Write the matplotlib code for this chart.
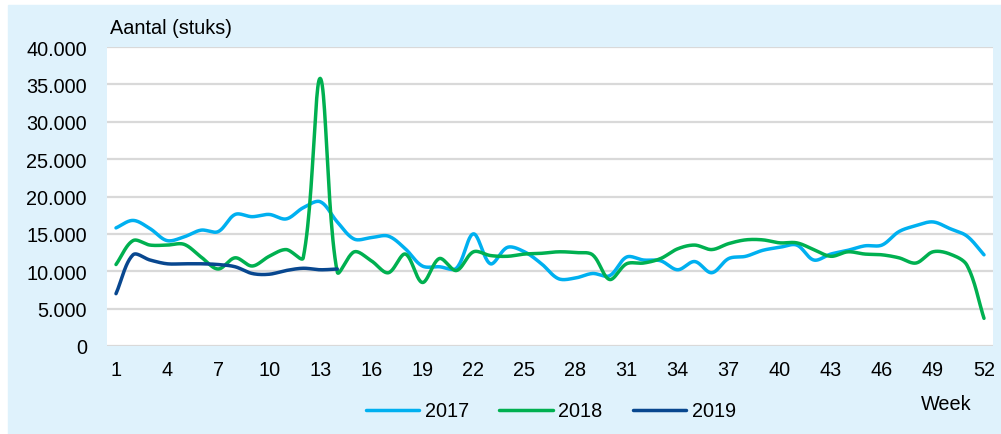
import matplotlib
matplotlib.use('Agg')
import matplotlib.pyplot as plt
import numpy as np
from matplotlib.patches import Rectangle

plt.rcParams['font.family'] = ['Liberation Sans', 'DejaVu Sans']

weeks = np.arange(1, 53)
# (x 1000 stuks per week)
y2017 = [15.8, 16.8, 15.7, 14.1, 14.6, 15.5, 15.3, 17.6, 17.3, 17.6,
         17.0, 18.5, 19.3, 16.6, 14.3, 14.5, 14.7, 13.0, 10.7, 10.6,
         10.4, 15.0, 11.0, 13.2, 12.6, 11.0, 9.0, 9.1, 9.7, 9.4,
         11.9, 11.5, 11.4, 10.2, 11.3, 9.8, 11.7, 12.0, 12.8, 13.2,
         13.5, 11.5, 12.3, 12.8, 13.4, 13.5, 15.3, 16.1, 16.6, 15.7,
         14.7, 12.2]
y2018 = [10.9, 14.1, 13.5, 13.5, 13.6, 11.9, 10.3, 11.8, 10.7, 12.0,
         12.9, 11.8, 35.8, 9.9, 12.6, 11.4, 9.8, 12.3, 8.5, 11.7,
         10.1, 12.6, 12.1, 12.0, 12.3, 12.4, 12.6, 12.5, 12.2, 8.9,
         11.0, 11.1, 11.7, 13.0, 13.5, 12.9, 13.7, 14.2, 14.2, 13.8,
         13.8, 12.9, 12.0, 12.6, 12.3, 12.2, 11.8, 11.1, 12.6, 12.3,
         10.8, 3.7]
y2019 = [7.0, 12.2, 11.5, 11.0, 11.0, 11.0, 10.9, 10.6, 9.7, 9.6,
         10.1, 10.4, 10.2, 10.3]
series = [('2017', y2017, '#00B0F0'),
          ('2018', y2018, '#00B050'),
          ('2019', y2019, '#08478F')]
yticks = np.arange(0, 40001, 5000)
xticks = np.arange(1, 53, 3)


def smooth(x, y, n=24, sx=17.0, sy=7.45e-3):
    # bezier through the points with handles scaled by segment length,
    # roughly what excel does for a smoothed line
    x = np.asarray(x, float)
    y = np.asarray(y, float)
    px = np.concatenate([[x[0]], x, [x[-1]]])
    py = np.concatenate([[y[0]], y, [y[-1]]])
    d = np.hypot(np.diff(px) * sx, np.diff(py) * sy) + 1e-9
    xs, ys = [], []
    t = np.linspace(0, 1, n, endpoint=False)
    for i in range(1, len(px) - 2):
        p0, p1, p2, p3 = px[i-1:i+3]
        q0, q1, q2, q3 = py[i-1:i+3]
        f1 = 2 * d[i] / (d[i-1] + d[i]) / 6
        f2 = 2 * d[i] / (d[i] + d[i+1]) / 6
        c1x, c1y = p1 + (p2 - p0) * f1, q1 + (q2 - q0) * f1
        c2x, c2y = p2 - (p3 - p1) * f2, q2 - (q3 - q1) * f2
        b = [(1-t)**3, 3*(1-t)**2*t, 3*(1-t)*t**2, t**3]
        xs.append(b[0]*p1 + b[1]*c1x + b[2]*c2x + b[3]*p2)
        ys.append(b[0]*q1 + b[1]*c1y + b[2]*c2y + b[3]*q2)
    xs.append([x[-1]])
    ys.append([y[-1]])
    return np.concatenate(xs), np.concatenate(ys)


fig = plt.figure(figsize=(10.01, 4.35), dpi=100)
fig.patches.append(Rectangle((8/1001, 0), 1, (435-6)/435,
                             transform=fig.transFigure,
                             color='#DFF2FC', zorder=-10))
ax = fig.add_axes([107/1001, 1-347/435, (993-107)/1001, (347-48)/435])
ax.set_facecolor('white')

for name, vals, col in series:
    sx, sy = smooth(weeks[:len(vals)], np.array(vals) * 1000)
    ax.plot(sx, sy, color=col, lw=2.5, label=name, solid_capstyle='round')

ax.set_xlim(1 - 9/17.02, 52 + 9/17.02)
ax.set_ylim(0, 40000)
ax.set_yticks(yticks)
ax.set_yticklabels([f'{v:,}'.replace(',', '.') for v in yticks])
ax.set_xticks(xticks)
ax.grid(axis='y', color='#D9D9D9', lw=1.6)
ax.set_axisbelow(True)
for s in ax.spines.values():
    s.set_visible(False)
ax.tick_params(length=0, labelsize=14.3, colors='black')
ax.tick_params(axis='y', pad=14.5)
ax.tick_params(axis='x', pad=10)

fig.text(110/1001, 1-29/435, 'Aantal (stuks)', fontsize=14.3, va='center')
fig.text(921/1001, 1-405/435, 'Week', fontsize=14.3, va='center')
fig.legend(loc='center', bbox_to_anchor=(551/1001, 1-412/435), ncol=3,
           frameon=False, fontsize=14.3, handlelength=2.68,
           handletextpad=0.3, columnspacing=1.5)

plt.savefig('out.png', dpi=100, facecolor='white')
